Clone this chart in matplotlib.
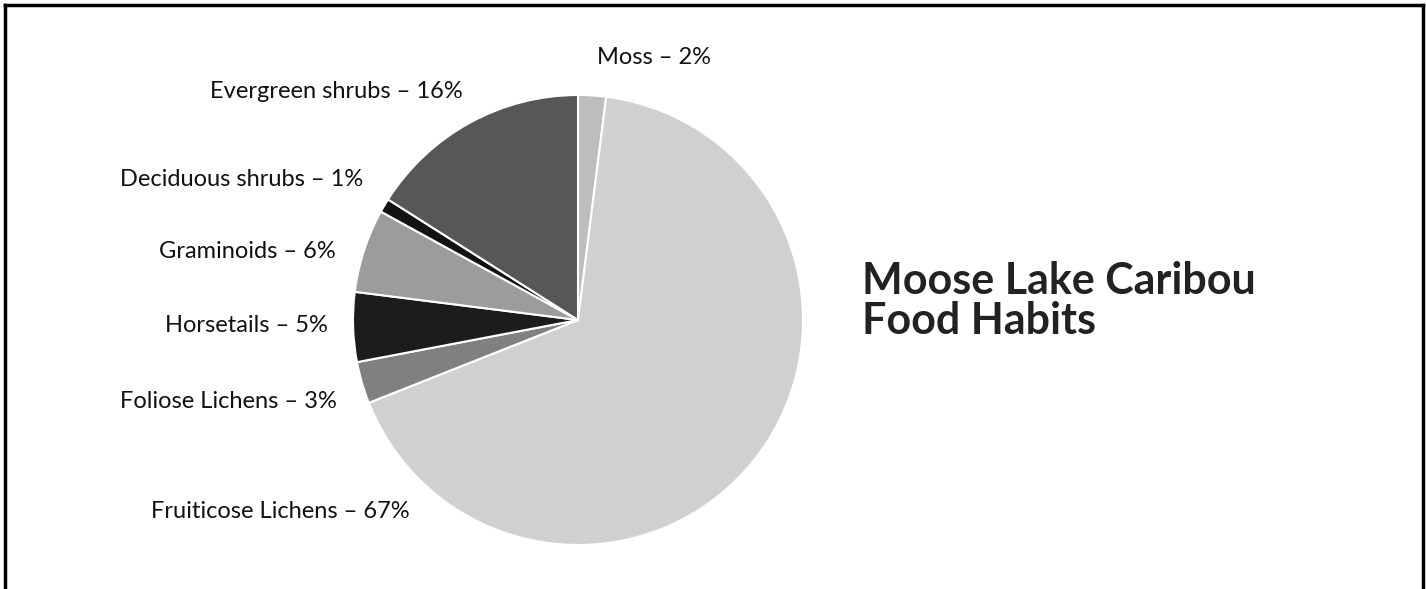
import matplotlib.pyplot as plt
from matplotlib.lines import Line2D

W, H = 1426, 589

categories = ["Moss", "Fruiticose Lichens", "Foliose Lichens", "Horsetails",
              "Graminoids", "Deciduous shrubs", "Evergreen shrubs"]
percent = [2, 67, 3, 5, 6, 1, 16]
shades = ["#bdbdbd", "#d0d0d0", "#808080", "#1c1c1c", "#9c9c9c", "#121212", "#575757"]

# label anchors in pixels (x, y from top), ha
label_layout = {
    "Moss": (597, 58, "left"),
    "Fruiticose Lichens": (410, 512, "right"),
    "Foliose Lichens": (337, 401, "right"),
    "Horsetails": (328, 326, "right"),
    "Graminoids": (336, 252, "right"),
    "Deciduous shrubs": (363, 180, "right"),
    "Evergreen shrubs": (463, 91, "right"),
}

plt.rcParams["font.family"] = ["Lato", "DejaVu Sans"]

fig = plt.figure(figsize=(W / 100, H / 100), dpi=100)

# pie, centre (578, 320) px, radius 225 px
cx, cy, r = 578, 320, 225
ax = fig.add_axes([(cx - r) / W, (H - cy - r) / H, 2 * r / W, 2 * r / H])
ax.pie(percent, colors=shades, startangle=90, counterclock=False,
       wedgeprops=dict(edgecolor="white", linewidth=1.5))
ax.set_xlim(-1, 1)
ax.set_ylim(-1, 1)

for name, p in zip(categories, percent):
    x, y, ha = label_layout[name]
    fig.text(x / W, 1 - y / H, f"{name} \u2013 {p}%", ha=ha, va="center",
             fontsize=17, color="#111111")

fig.text(862 / W, 1 - 334 / H, "Moose Lake Caribou\nFood Habits", ha="left",
         va="baseline", fontsize=31, fontweight="bold", color="#222222",
         linespacing=1.0)

# frame around the figure (bottom edge is cut off)
for xs, ys in [([5, 1423], [5, 5]), ([5, 5], [5, 600]), ([1423, 1423], [5, 600])]:
    fig.add_artist(Line2D([x / W for x in xs], [1 - y / H for y in ys],
                          color="black", lw=2.5, transform=fig.transFigure))

fig.savefig("out.png", dpi=100)
